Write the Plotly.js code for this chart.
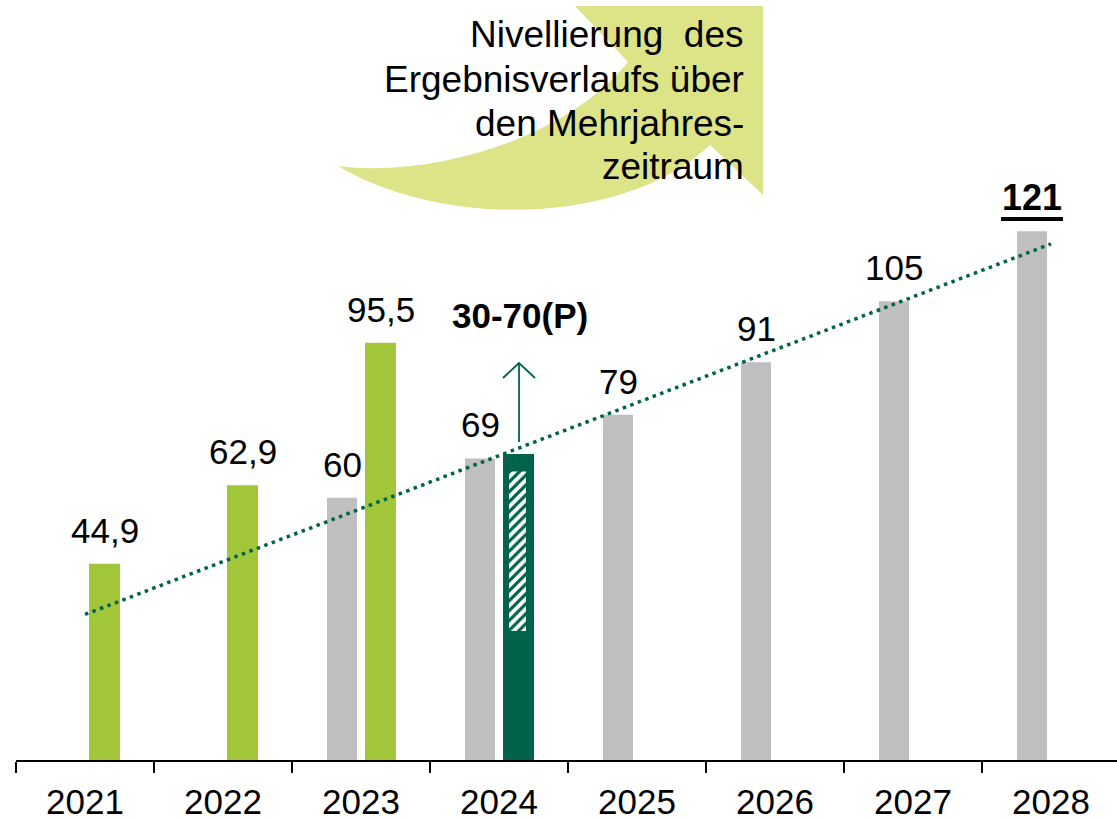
<!DOCTYPE html>
<html>
<head>
<meta charset="utf-8">
<script src="https://cdn.plot.ly/plotly-3.0.1.min.js"></script>
<style>html,body{margin:0;padding:0;background:#fff;}#chart{width:1117px;height:820px;}</style>
</head>
<body>
<div id="chart"></div>
<script>
// ---- data ----
const years = ['2021', '2022', '2023', '2024', '2025', '2026', '2027', '2028'];
const planValues = [null, null, 60, 69, 79, 91, 105, 121];          // grey bars
const actualValues = [44.9, 62.9, 95.5, null, null, null, null, null]; // light green bars
const forecastYear = ['2024'];
const forecastTop = [70];        // dark green bar
const forecastRangeLow = [29.5]; // hatched band
const forecastRangeHigh = [66];
const forecastLabel = '30-70(P)';
const trendYears = ['2021', '2028'];
const trendValues = [33.3, 118.1];
const highlightYear = '2028';
const noteLines = ['Nivellierung\u00a0 des', 'Ergebnisverlaufs über', 'den Mehrjahres-', 'zeitraum'];

// ---- styles ----
const GREY = '#BFBFBF', GREEN = '#A2C63A', DARK = '#00634A', ARROWFILL = '#DDE387';
const FONT = 'Liberation Sans, Arial, sans-serif';
const L = 16, PW = 1101, BASE = 760, PH = 760;
const pxX = x => (x - L) / PW;
const pxY = y => (BASE - y) / PH;
const fmt = v => String(v).replace('.', ',');

const barCommon = {type: 'bar', hoverinfo: 'skip'};
const traces = [
  Object.assign({}, barCommon, {x: years, y: planValues, offset: -0.2464, width: 0.2174, marker: {color: GREY, line: {width: 0}}}),
  Object.assign({}, barCommon, {x: years, y: actualValues, offset: 0.029, width: 0.2246, marker: {color: GREEN, line: {width: 0}}}),
  Object.assign({}, barCommon, {x: forecastYear, y: forecastTop, offset: 0.029, width: 0.2246, marker: {color: DARK, line: {width: 0}}}),
  Object.assign({}, barCommon, {
    x: forecastYear, base: forecastRangeLow,
    y: forecastRangeHigh.map((h, i) => h - forecastRangeLow[i]),
    offset: 0.0725, width: 0.123,
    marker: {color: DARK, line: {width: 0}, pattern: {shape: '/', fgcolor: '#FFFFFF', bgcolor: DARK, size: 7, solidity: 0.55, fillmode: 'replace'}}
  }),
  {type: 'scatter', mode: 'lines', x: trendYears, y: trendValues, hoverinfo: 'skip',
   line: {color: DARK, width: 3.5, dash: '3.5px,4.5px'}}
];

const annotations = [];
years.forEach((yr, i) => {
  const v = planValues[i];
  if (v !== null) {
    const hl = yr === highlightYear;
    annotations.push({x: i, y: v, xref: 'x', yref: 'y', text: hl ? '<b>' + fmt(v) + '</b>' : fmt(v),
      showarrow: false, xanchor: 'center', xshift: -19, yanchor: 'bottom', yshift: hl ? 11 : 12,
      font: {family: FONT, size: hl ? 36 : 35, color: '#000'}});
  }
  const a = actualValues[i];
  if (a !== null) {
    annotations.push({x: i, y: a, xref: 'x', yref: 'y', text: fmt(a), showarrow: false, xanchor: 'center',
      xshift: 19.5, yanchor: 'bottom', yshift: 12, font: {family: FONT, size: 35, color: '#000'}});
  }
});
annotations.push({x: pxX(520), y: pxY(315), xref: 'paper', yref: 'paper', text: '<b>' + forecastLabel + '</b>',
  showarrow: false, xanchor: 'center', yanchor: 'middle', font: {family: FONT, size: 35, color: '#000'}});
const lineCenters = [34, 79, 124, 167];
noteLines.forEach((t, i) => {
  annotations.push({x: pxX(746), y: pxY(lineCenters[i]), xref: 'paper', yref: 'paper', text: t,
    showarrow: false, xanchor: 'right', yanchor: 'middle', align: 'right',
    font: {family: FONT, size: 37, color: '#000'}});
});

function pathPx(cmds) {
  return cmds.map(c => {
    if (typeof c === 'string') return c;
    return pxX(c[0]).toFixed(5) + ',' + pxY(c[1]).toFixed(5);
  }).join(' ');
}
const swoosh = pathPx(['M', [575, 6], 'L', [763, 6], 'L', [763, 195], 'L', [710, 145],
  'C', [630, 222], [450, 232], [338, 166],
  'C', [430, 178], [565, 140], [628, 62], 'Z']);
const upArrow = pathPx(['M', [519, 442], 'L', [519, 363], 'M', [503, 378], 'L', [519, 363], 'L', [535, 378]]);

const shapes = [
  {type: 'path', xref: 'paper', yref: 'paper', path: swoosh, fillcolor: ARROWFILL, line: {width: 0}, layer: 'below'},
  {type: 'path', xref: 'paper', yref: 'paper', path: upArrow, line: {color: DARK, width: 1.8}},
  {type: 'line', xref: 'paper', yref: 'paper', x0: pxX(1001), x1: pxX(1063), y0: pxY(219), y1: pxY(219),
   line: {color: '#000', width: 4}}
];

const tickVals = [];
for (let k = 0; k <= years.length; k++) tickVals.push(k - 0.5);

const layout = {
  width: 1117, height: 820,
  margin: {l: L, r: 0, t: 0, b: 60, pad: 0},
  paper_bgcolor: '#fff', plot_bgcolor: '#fff',
  showlegend: false, barmode: 'overlay',
  xaxis: {type: 'category', range: [-0.5, 7.478], tickson: 'boundaries', ticks: 'outside', ticklen: 11,
    tickwidth: 2, tickcolor: '#000', showline: true, linecolor: '#000', linewidth: 1.6, showgrid: false,
    zeroline: false, fixedrange: true, ticklabelstandoff: 10, tickfont: {family: FONT, size: 35, color: '#000'}},
  xaxis2: {overlaying: 'x', anchor: 'y', side: 'bottom', type: 'linear', range: [-0.5, 7.478],
    tickmode: 'array', tickvals: tickVals, ticks: 'inside', ticklen: 10, tickwidth: 2, tickcolor: '#000',
    showticklabels: false, showline: false, showgrid: false, zeroline: false, fixedrange: true},
  yaxis: {range: [0, PH / 4.37], visible: false, fixedrange: true},
  annotations: annotations,
  shapes: shapes
};

Plotly.newPlot('chart', traces, layout, {displayModeBar: false, staticPlot: true});
</script>
</body>
</html>
